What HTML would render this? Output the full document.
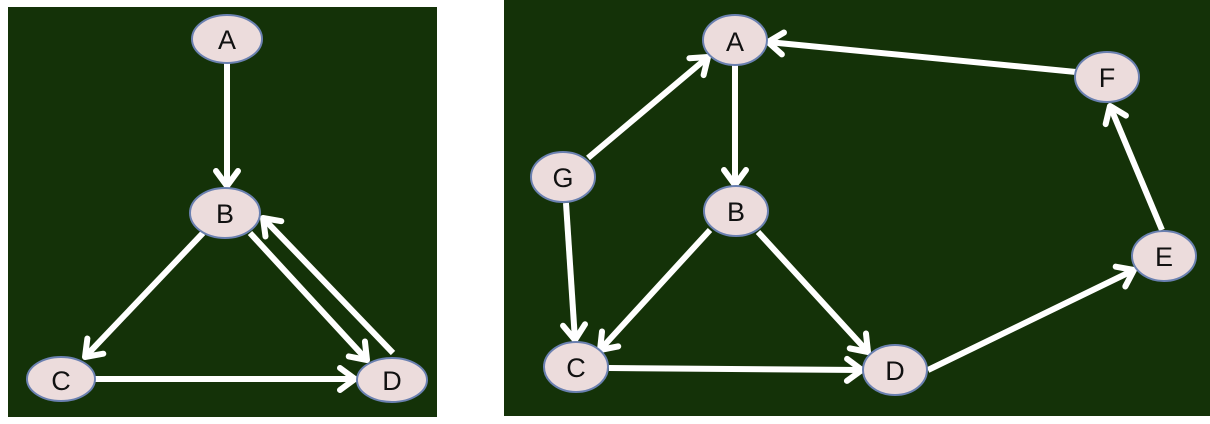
<!DOCTYPE html>
<html><head><meta charset="utf-8"><style>
html,body{margin:0;padding:0;background:#fff;width:1210px;height:424px;overflow:hidden}
text{font-family:"Liberation Sans",sans-serif;font-size:27px;fill:#111;text-anchor:middle;dominant-baseline:central}
</style></head><body>
<svg width="1210" height="424" viewBox="0 0 1210 424" xmlns="http://www.w3.org/2000/svg">
<defs>
<marker id="ar" markerUnits="userSpaceOnUse" markerWidth="40" markerHeight="40" refX="0" refY="0" viewBox="-20 -20 40 40" orient="auto">
<path d="M-15,-11 L0,0 L-15,11" fill="none" stroke="#fff" stroke-width="6" stroke-linecap="round" stroke-linejoin="round"/>
</marker>
</defs>
<rect x="8" y="7" width="429" height="410" fill="#143208"/>
<rect x="504" y="0" width="706" height="416" fill="#143208"/>
<g stroke="#fff" stroke-width="6" fill="none" marker-end="url(#ar)">
<line x1="227" y1="63" x2="227" y2="186"/>
<line x1="203" y1="233" x2="85" y2="357"/>
<line x1="250" y1="233" x2="367" y2="360"/>
<line x1="393" y1="353" x2="263" y2="218"/>
<line x1="95" y1="379" x2="355" y2="379"/>
<line x1="735" y1="65" x2="735" y2="185"/>
<line x1="588" y1="158" x2="708" y2="57"/>
<line x1="1076" y1="72" x2="768" y2="42"/>
<line x1="566" y1="203" x2="575" y2="340"/>
<line x1="710" y1="230" x2="600" y2="350"/>
<line x1="758" y1="232" x2="868" y2="352"/>
<line x1="609" y1="368" x2="862" y2="370"/>
<line x1="928" y1="370" x2="1134" y2="270"/>
<line x1="1162" y1="230" x2="1110" y2="106"/>
</g>
<g fill="#ecdcdc" stroke="#6a80b0" stroke-width="2">
<ellipse cx="227" cy="39" rx="35" ry="24"/>
<ellipse cx="225" cy="213" rx="35" ry="25"/>
<ellipse cx="61" cy="379" rx="34" ry="22"/>
<ellipse cx="392" cy="380" rx="35" ry="22"/>
<ellipse cx="735" cy="40" rx="32" ry="25"/>
<ellipse cx="1107" cy="77" rx="32" ry="25"/>
<ellipse cx="563" cy="177" rx="32" ry="25"/>
<ellipse cx="736" cy="211" rx="32" ry="25"/>
<ellipse cx="1164" cy="256" rx="32" ry="25"/>
<ellipse cx="576" cy="367" rx="32" ry="25"/>
<ellipse cx="895" cy="370" rx="32" ry="25"/>
</g>
<text x="227" y="40">A</text>
<text x="225" y="214">B</text>
<text x="61" y="381">C</text>
<text x="392" y="381">D</text>
<text x="735" y="42">A</text>
<text x="1107" y="78">F</text>
<text x="563" y="178">G</text>
<text x="736" y="212">B</text>
<text x="1164" y="257">E</text>
<text x="576" y="368">C</text>
<text x="895" y="371">D</text>
</svg>
</body></html>
